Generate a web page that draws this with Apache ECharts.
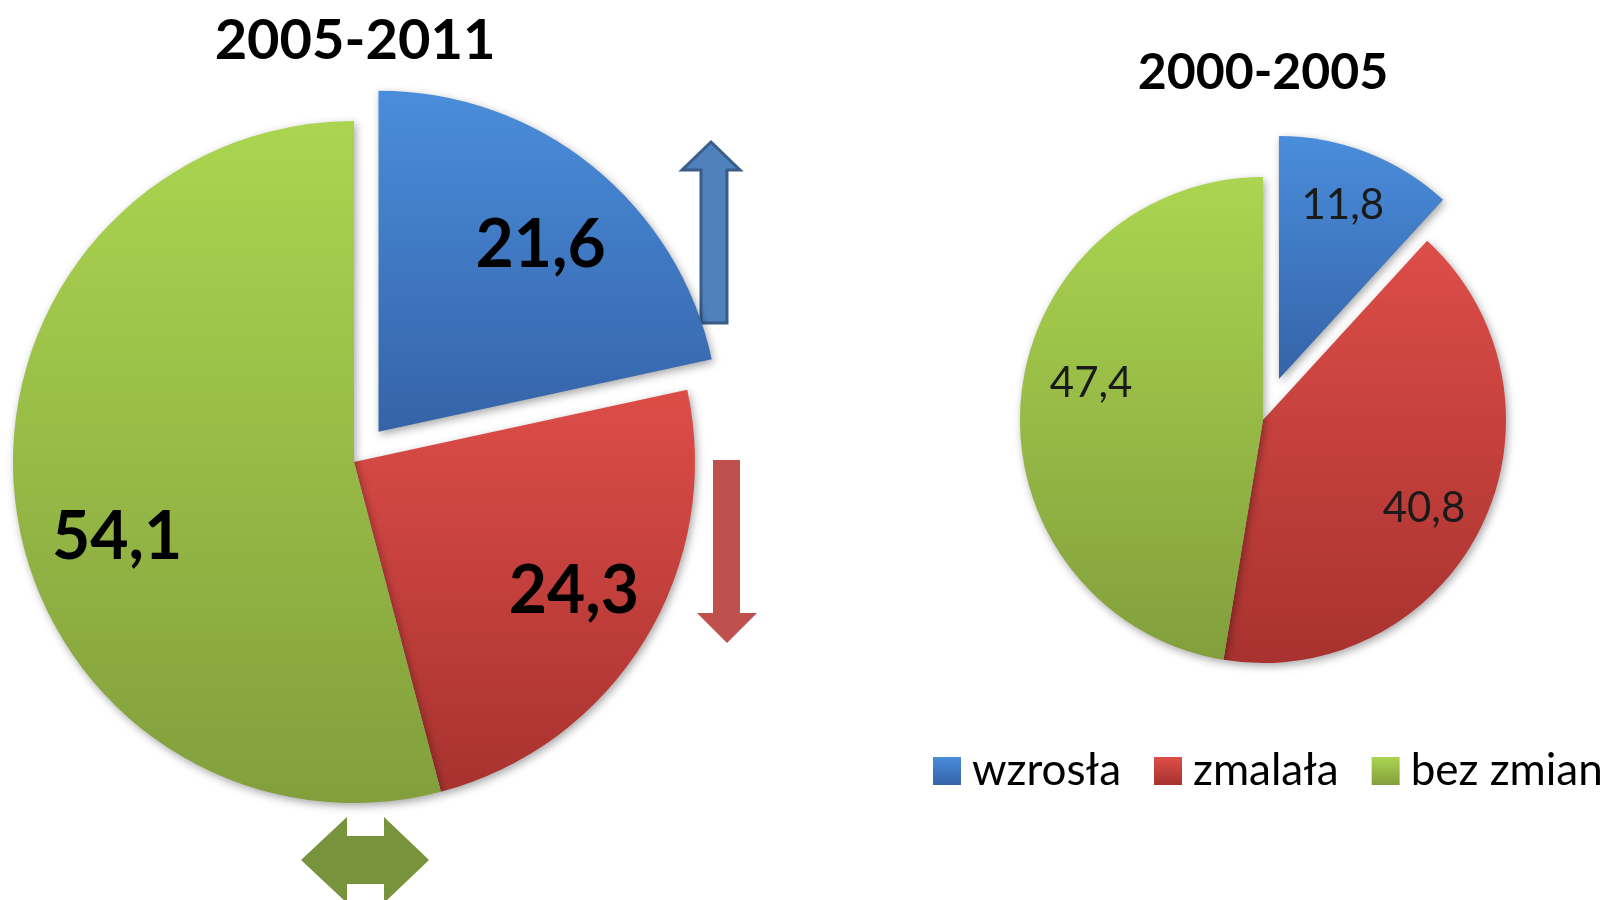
<!DOCTYPE html>
<html>
<head>
<meta charset="utf-8">
<title>Zmiana 2000-2005 / 2005-2011</title>
<script src="https://cdn.jsdelivr.net/npm/echarts@6.0.0/dist/echarts.min.js"></script>
<style>
  html, body { margin: 0; padding: 0; background: #fff; }
  #chart { width: 1617px; height: 900px; }
</style>
</head>
<body>
<div id="chart"></div>
<script>
// dane
const categories = ['wzrosła', 'zmalała', 'bez zmian']
const periods = ['2005-2011', '2000-2005']
const values2005_2011 = [21.6, 24.3, 54.1]
const values2000_2005 = [11.8, 40.8, 47.4]

// kolory (gradient jasny -> ciemny)
const topColors = ['#4a8ddb', '#dd4d48', '#abd550']
const bottomColors = ['#3563a8', '#a8322f', '#829f3c']

const grad = (i) => new echarts.graphic.LinearGradient(0, 0, 0, 1, [
  { offset: 0, color: topColors[i] },
  { offset: 1, color: bottomColors[i] }
])

const fmt = (p) => p.value.toFixed(1).replace('.', ',')

const makeData = (values, withColor, shifts) => values.map((v, i) => ({
  name: categories[i],
  value: v,
  selected: i === 0,
  itemStyle: withColor ? { color: grad(i) } : { color: 'rgba(0,0,0,0)' },
  label: shifts ? { offset: shifts[i] } : undefined,
  select: shifts ? { label: { offset: shifts[i] } } : undefined
}))

// pie + osobna przezroczysta warstwa z etykietami (etykiety dalej od srodka)
const pieSeries = (values, center, r, offset, labelR0, font, shifts) => ([
  {
    type: 'pie', center, radius: [0, r], startAngle: 90,
    selectedMode: 'multiple', selectedOffset: offset,
    animation: false, silent: true,
    label: { show: false }, labelLine: { show: false },
    itemStyle: {
      shadowBlur: 8, shadowColor: 'rgba(0,0,0,0.35)', shadowOffsetX: 2, shadowOffsetY: 3
    },
    data: makeData(values, true)
  },
  {
    type: 'pie', center, radius: [labelR0, r], startAngle: 90,
    selectedMode: 'multiple', selectedOffset: offset,
    animation: false, silent: true,
    label: {
      show: true, position: 'inside', formatter: fmt,
      fontFamily: 'Lato', color: '#000', ...font
    },
    labelLine: { show: false },
    data: makeData(values, false, shifts)
  }
])

const chart = echarts.init(document.getElementById('chart'), null, { renderer: 'canvas' })

chart.setOption({
  backgroundColor: '#fff',
  legend: {
    data: categories,
    left: 928, top: 744,
    icon: 'rect', itemWidth: 28, itemHeight: 28, itemGap: 33,
    textStyle: { fontFamily: 'Lato', fontSize: 44, color: '#000', padding: [0, 0, 0, 6] },
    selectedMode: false
  },
  series: [
    ...pieSeries(values2005_2011, [354, 462], 341, 39, 157, { fontSize: 66, fontWeight: 'bold' },
      [[4, 10], [5, -2], [13, 43]]),
    ...pieSeries(values2000_2005, [1263, 420], 243, 44, 120, { fontSize: 42, fontWeight: 'normal', color: '#1a1a1a' },
      [[-3, -2], [-5, 8], [12, -21]])
  ],
  graphic: [
    // tytuly
    { type: 'text', x: 355, y: 41, style: { text: periods[0], fontFamily: 'Lato', fontWeight: 'bold', fontSize: 56, fill: '#000', align: 'center', verticalAlign: 'middle' } },
    { type: 'text', x: 1263, y: 73, style: { text: periods[1], fontFamily: 'Lato', fontWeight: 'bold', fontSize: 50, fill: '#000', align: 'center', verticalAlign: 'middle' } },
    // strzalka w gore
    { type: 'polygon', shape: { points: [[701, 323], [727, 323], [727, 170], [740, 170], [711, 142], [682, 170], [701, 170]] },
      style: { fill: '#4f81bd', stroke: '#385d8a', lineWidth: 3 } },
    // strzalka w dol
    { type: 'polygon', shape: { points: [[713, 460], [740, 460], [740, 613], [757, 613], [727, 643], [697, 613], [713, 613]] },
      style: { fill: '#c0504d' } },
    // strzalka w obie strony
    { type: 'polygon', shape: { points: [[301, 860], [347, 817], [347, 836], [384, 836], [384, 817], [429, 860], [384, 903], [384, 884], [347, 884], [347, 903]] },
      style: { fill: '#77933c' } }
  ]
})
</script>
</body>
</html>
